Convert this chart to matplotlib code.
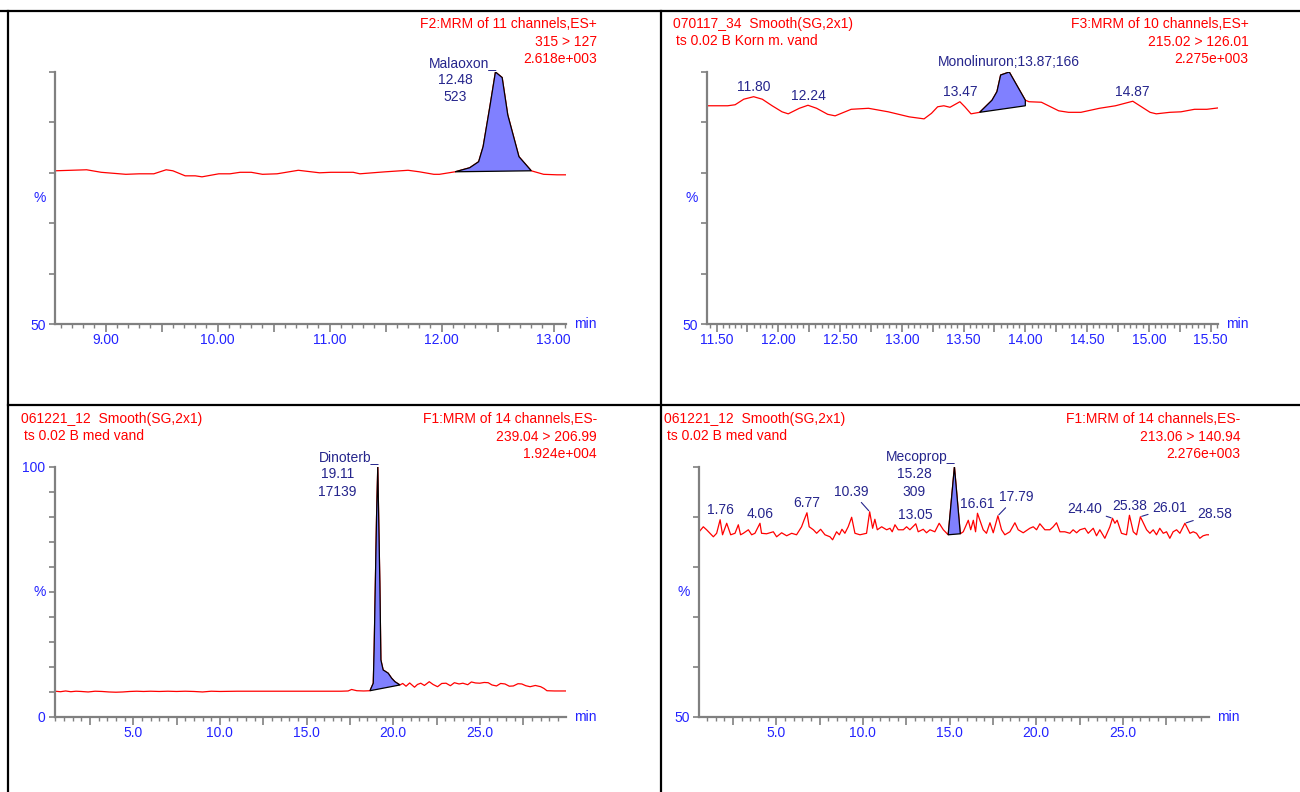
import numpy as np
import matplotlib
matplotlib.use("Agg")
import matplotlib.pyplot as plt
from matplotlib.lines import Line2D
from matplotlib.ticker import MultipleLocator, FuncFormatter

plt.rcParams["font.family"] = ["Liberation Sans", "DejaVu Sans"]

W, H = 1300, 792
RED = "#ff0000"
BLUE = "#2323ff"
NAVY = "#25258c"
FILL = "#8080ff"
GREY = "#808080"

# ---- traces (time in min, intensity in %) ----
t1 = [8.55, 8.83, 8.96, 9.18, 9.30, 9.43, 9.54, 9.60, 9.71, 9.80,
      9.86, 10.01, 10.11, 10.20, 10.30, 10.40, 10.53, 10.72, 10.91, 11.01,
      11.21, 11.27, 11.44, 11.50, 11.70, 11.80, 11.93, 11.98, 12.12, 12.25,
      12.33, 12.37, 12.43, 12.48, 12.54, 12.59, 12.69, 12.80, 12.91, 13.03,
      13.11]
i1 = [80.4, 80.6, 80.1, 79.7, 79.8, 79.8, 80.6, 80.4, 79.4, 79.4,
      79.2, 79.8, 79.8, 80.1, 80.1, 79.7, 79.8, 80.5, 80.0, 80.1,
      80.1, 79.8, 80.1, 80.2, 80.5, 80.2, 79.7, 79.7, 80.2, 81.0,
      82.2, 85.2, 93.1, 100.0, 98.9, 91.5, 83.2, 80.4, 79.7, 79.6,
      79.6]

t2 = [11.43, 11.59, 11.65, 11.72, 11.80, 11.87, 11.95, 12.03, 12.08, 12.17,
      12.24, 12.31, 12.40, 12.46, 12.59, 12.73, 12.89, 13.06, 13.18, 13.24,
      13.29, 13.34, 13.39, 13.47, 13.51, 13.56, 13.63, 13.73, 13.77, 13.80,
      13.87, 14.00, 14.03, 14.13, 14.27, 14.35, 14.45, 14.60, 14.73, 14.87,
      14.94, 15.01, 15.06, 15.17, 15.26, 15.37, 15.47, 15.57]
i2 = [93.3, 93.3, 93.5, 94.6, 95.1, 94.6, 93.3, 92.1, 91.7, 92.8,
      93.4, 92.8, 91.6, 91.3, 92.6, 92.8, 92.1, 91.1, 90.7, 91.8,
      93.1, 93.3, 93.0, 94.1, 93.1, 91.7, 92.0, 94.4, 96.1, 99.4,
      100.0, 94.4, 94.1, 94.0, 92.3, 92.0, 92.0, 92.8, 93.3, 94.2,
      93.1, 92.0, 91.7, 92.0, 92.1, 92.6, 92.6, 92.9]

t3 = [0.50, 0.8, 1.1, 1.4, 1.7, 2.0, 2.4, 2.8, 3.2, 3.6,
      4.0, 4.4, 4.8, 5.2, 5.6, 6.0, 6.5, 7.0, 7.5, 8.0,
      8.5, 9.0, 9.5, 10.0, 11.0, 12.0, 13.0, 14.0, 15.0, 16.0,
      17.0, 17.4, 17.6, 17.9, 18.3, 18.66, 18.85, 18.90, 19.04, 19.11,
      19.23, 19.29, 19.42, 19.71, 19.91, 20.10, 20.39, 20.55, 20.74, 20.95,
      21.23, 21.40, 21.59, 21.80, 22.08, 22.30, 22.56, 22.80, 23.05, 23.30,
      23.53, 23.80, 24.02, 24.30, 24.51, 24.75, 25.00, 25.25, 25.48, 25.70,
      25.96, 26.20, 26.45, 26.70, 26.93, 27.20, 27.42, 27.65, 27.90, 28.20,
      28.51, 28.70, 28.87, 29.30, 29.97]
i3 = [10.3, 10.1, 10.4, 10.1, 10.3, 10.2, 10.0, 10.3, 10.2, 10.0,
      9.9, 10.0, 10.2, 10.3, 10.2, 10.3, 10.2, 10.3, 10.2, 10.3,
      10.2, 10.0, 10.3, 10.2, 10.3, 10.3, 10.3, 10.3, 10.3, 10.3,
      10.3, 10.4, 11.0, 10.5, 10.4, 10.5, 13.5, 26.8, 80.0, 100.0,
      53.5, 22.8, 18.8, 17.5, 15.5, 14.1, 12.8, 13.4, 12.3, 13.6,
      11.9, 13.0, 13.5, 12.6, 14.1, 13.0, 12.1, 13.4, 13.5, 12.5,
      13.7, 13.2, 13.5, 12.9, 14.0, 13.6, 13.5, 13.8, 13.7, 12.8,
      12.4, 13.4, 13.2, 12.3, 12.4, 13.3, 13.2, 12.5, 12.1, 12.6,
      12.1, 11.4, 10.5, 10.4, 10.4]

t4 = [0.55, 0.79, 0.98, 1.37, 1.56, 1.76, 1.90, 2.14, 2.37, 2.62,
      2.81, 2.94, 3.10, 3.39, 3.58, 3.77, 4.06, 4.15, 4.44, 4.83,
      5.02, 5.31, 5.60, 5.89, 6.17, 6.46, 6.60, 6.77, 6.90, 7.14,
      7.33, 7.56, 7.81, 8.10, 8.25, 8.48, 8.64, 8.79, 8.96, 9.15,
      9.35, 9.54, 9.83, 10.21, 10.39, 10.56, 10.69, 10.83, 11.08, 11.37,
      11.56, 11.69, 11.85, 12.04, 12.33, 12.52, 12.71, 13.05, 13.19, 13.48,
      13.67, 13.87, 14.15, 14.40, 14.64, 14.92, 15.28, 15.62, 15.79, 16.08,
      16.22, 16.37, 16.50, 16.61, 16.94, 17.13, 17.33, 17.52, 17.79, 18.00,
      18.19, 18.48, 18.77, 18.96, 19.25, 19.63, 19.83, 20.02, 20.21, 20.50,
      20.79, 20.98, 21.17, 21.37, 21.65, 21.94, 22.13, 22.33, 22.52, 22.81,
      23.00, 23.29, 23.48, 23.67, 23.96, 24.25, 24.40, 24.54, 24.67, 24.92,
      25.21, 25.38, 25.60, 25.79, 26.01, 26.37, 26.56, 26.75, 26.94, 27.13,
      27.33, 27.52, 27.71, 27.90, 28.10, 28.29, 28.58, 28.87, 29.06, 29.25,
      29.44, 29.63, 29.83, 29.97]
i4 = [87.0, 88.0, 87.4, 86.0, 86.7, 89.4, 86.4, 88.7, 86.4, 86.7,
      88.4, 86.4, 86.7, 87.4, 86.4, 86.7, 88.7, 86.7, 86.6, 87.0,
      86.0, 86.8, 86.2, 86.7, 86.4, 88.0, 89.3, 90.8, 88.0, 87.4,
      86.7, 87.5, 86.4, 86.0, 85.4, 87.0, 86.4, 87.5, 86.7, 88.0,
      89.9, 86.7, 86.4, 86.7, 91.0, 87.7, 89.5, 87.4, 88.0, 87.4,
      87.7, 87.0, 88.4, 87.4, 87.4, 88.0, 87.4, 88.6, 87.0, 87.5,
      86.8, 87.4, 87.0, 88.7, 87.4, 86.4, 100.0, 86.6, 87.0, 89.3,
      87.4, 89.3, 87.0, 90.7, 87.4, 86.7, 88.8, 86.8, 90.2, 87.4,
      86.4, 87.0, 88.8, 87.4, 86.8, 87.7, 88.0, 87.4, 88.6, 87.4,
      87.4, 88.0, 88.8, 87.0, 87.0, 86.7, 87.4, 86.8, 87.4, 87.7,
      86.7, 87.7, 86.2, 87.4, 85.7, 88.0, 89.7, 88.7, 89.3, 86.7,
      86.4, 90.3, 87.0, 86.4, 90.0, 87.4, 86.7, 87.4, 86.4, 87.7,
      86.7, 87.0, 85.7, 87.0, 87.4, 86.7, 88.7, 86.7, 87.0, 86.7,
      85.7, 86.2, 86.4, 86.4]

# ---- header texts ----
hdr_left = [[],
            ["070117_34  Smooth(SG,2x1)", "ts 0.02 B Korn m. vand"],
            ["061221_12  Smooth(SG,2x1)", "ts 0.02 B med vand"],
            ["061221_12  Smooth(SG,2x1)", "ts 0.02 B med vand"]]
hdr_right = [["F2:MRM of 11 channels,ES+", "315 > 127", "2.618e+003"],
             ["F3:MRM of 10 channels,ES+", "215.02 > 126.01", "2.275e+003"],
             ["F1:MRM of 14 channels,ES-", "239.04 > 206.99", "1.924e+004"],
             ["F1:MRM of 14 channels,ES-", "213.06 > 140.94", "2.276e+003"]]

# integrated peaks: name, rt, area, start, end, baseline at start, baseline at end
peaks = [("Malaoxon", 12.48, "523", 12.12, 12.80, 80.2, 80.4),
         ("Monolinuron", 13.87, "166", 13.63, 14.00, 92.0, 93.3),
         ("Dinoterb", 19.11, "17139", 18.66, 20.39, 10.5, 12.8),
         ("Mecoprop", 15.28, "309", 14.92, 15.62, 86.4, 86.6)]

# other labelled retention times
rt2 = [11.80, 12.24, 13.47, 14.87]
rt4 = [1.76, 4.06, 6.77, 10.39, 13.05, 16.61, 17.79, 24.40, 25.38, 26.01, 28.58]

# ---- layout (pixels) ----
frames = [(54.7, 72, 566, 324), (706.7, 72, 1218, 324),
          (54.7, 466.7, 566, 717), (698.8, 466.7, 1209, 717)]
xlims = [(8.545, 13.11), (11.42, 15.56), (0.47, 29.97), (0.53, 29.97)]
ylims = [(50, 100), (50, 100), (0, 100), (50, 100)]
# (minor, major, labelled, format)
xticks = [(0.1, 0.5, 1.0, "{:.2f}"), (0.05, 0.25, 0.5, "{:.2f}"),
          (0.5, 2.5, 5.0, "{:.1f}"), (0.5, 2.5, 5.0, "{:.1f}")]
hdr_pos = [(None, 597), (673, 1248.6), (21, 596.8), (664, 1240.4)]
hdr_top = [23.3, 23.3, 418.3, 418.3]
off4 = [(0, 7), (0, 7), (0, 7), (-13, 14.5), (0, 6.5), (0, 6.5), (13, 13.5),
        (-20, 6.5), (0, 7), (21, 6.5), (21.5, 7)]
lead4 = [False, False, False, True, False, False, True, True, False, True, True]

fig = plt.figure(figsize=(W / 100, H / 100), dpi=100)
fig.patch.set_facecolor("white")

for xs, ys in [((0, W), (11, 11)), ((8, 8), (11, H)), ((660.5, 660.5), (11, H)),
               ((8, W), (405.3, 405.3))]:
    fig.add_artist(Line2D([x / W for x in xs], [1 - y / H for y in ys],
                          color="black", lw=1.6))

traces = [(t1, i1), (t2, i2), (t3, i3), (t4, i4)]
axes = []
for k in range(4):
    l, t, r, b = frames[k]
    ax = fig.add_axes([l / W, 1 - b / H, (r - l) / W, (b - t) / H])
    axes.append(ax)
    tt, ii = np.array(traces[k][0]), np.array(traces[k][1])
    ax.plot(tt, ii, color=RED, lw=0.9, zorder=2)

    name, rt, area, st, en, b0, b1 = peaks[k]
    m = (tt >= st) & (tt <= en)
    ax.fill(np.r_[tt[m], en, st], np.r_[ii[m], b1, b0],
            facecolor=FILL, edgecolor="black", lw=0.9, zorder=3)

    ax.set_xlim(*xlims[k])
    ax.set_ylim(*ylims[k])
    for s in ("top", "right"):
        ax.spines[s].set_visible(False)
    for s in ("left", "bottom"):
        ax.spines[s].set_color(GREY)
        ax.spines[s].set_linewidth(1.6)

    mn, mj, lab, fmt = xticks[k]
    ax.xaxis.set_minor_locator(MultipleLocator(mn))
    ax.xaxis.set_major_locator(MultipleLocator(mj))
    ax.xaxis.set_major_formatter(FuncFormatter(
        lambda v, _, lab=lab, fmt=fmt: fmt.format(v)
        if abs(v / lab - round(v / lab)) < 1e-6 else ""))
    ax.tick_params(axis="x", which="major", length=5.4, width=1.2, color=GREY,
                   labelcolor=BLUE, labelsize=10, pad=1)
    ax.tick_params(axis="x", which="minor", length=3.0, width=1.0, color=GREY)

    y0, y1 = ylims[k]
    yt = np.arange(y0, y1 + 1, 10)
    ax.set_yticks(yt)
    ax.set_yticklabels([f"{v:.0f}" if (v == y0 or (y0 == 0 and v == y1)) else ""
                        for v in yt])
    ax.tick_params(axis="y", length=4.6, width=1.2, color=GREY,
                   labelcolor=BLUE, labelsize=10, pad=2)

    ax.annotate("%", xy=(0, 0.5), xycoords="axes fraction", xytext=(-11, 0),
                textcoords="offset points", ha="center", va="center",
                color=BLUE, fontsize=10)
    ax.annotate("min", xy=(1, 0), xycoords="axes fraction", xytext=(6, 0),
                textcoords="offset points", ha="left", va="center",
                color=BLUE, fontsize=10)

    apex = np.interp(rt, tt, ii)
    if k == 1:
        ax.annotate(f"{name};{rt:.2f};{area}", xy=(rt, apex), xytext=(0, 7),
                    textcoords="offset points", ha="center", va="center",
                    color=NAVY, fontsize=10)
    else:
        ax.annotate(f"{name}_", xy=(rt, apex), xytext=(1, 6.7),
                    textcoords="offset points", ha="right", va="center",
                    color=NAVY, fontsize=10)
        ax.annotate(f"{rt:.2f}", xy=(rt, apex), xytext=(-29, -5.5),
                    textcoords="offset points", ha="center", va="center",
                    color=NAVY, fontsize=10)
        ax.annotate(area, xy=(rt, apex), xytext=(-29, -18.3),
                    textcoords="offset points", ha="center", va="center",
                    color=NAVY, fontsize=10)

    # header
    xl, xr = hdr_pos[k]
    for j, s in enumerate(hdr_left[k]):
        fig.text((xl + 3 * j) / W, 1 - (hdr_top[k] + 4.5 + 17.5 * j) / H, s,
                 ha="left", va="baseline", color=RED, fontsize=10)
    for j, s in enumerate(hdr_right[k]):
        fig.text(xr / W, 1 - (hdr_top[k] + 4.5 + 17.8 * j) / H, s,
                 ha="right", va="baseline", color=RED, fontsize=10)

# small retention-time labels
ax = axes[1]
for rt in rt2:
    ax.annotate(f"{rt:.2f}", xy=(rt, np.interp(rt, t2, i2)), xytext=(0, 7),
                textcoords="offset points", ha="center", va="center",
                color=NAVY, fontsize=10)
ax = axes[3]
for rt, off, lead in zip(rt4, off4, lead4):
    ax.annotate(f"{rt:.2f}", xy=(rt, np.interp(rt, t4, i4)), xytext=off,
                textcoords="offset points", ha="center", va="center",
                color=NAVY, fontsize=10,
                arrowprops=dict(arrowstyle="-", color=NAVY, lw=0.8,
                                shrinkA=1, shrinkB=1) if lead else None)

fig.savefig("out.png", dpi=100)
